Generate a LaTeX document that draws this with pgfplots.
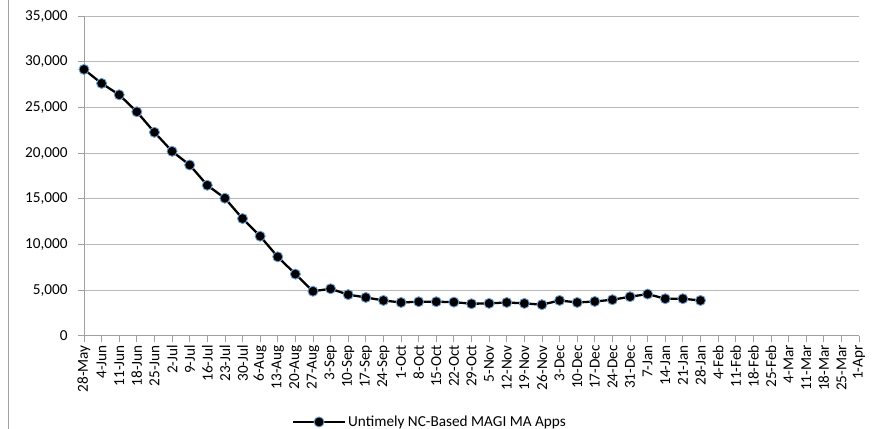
\documentclass[border=0pt]{standalone}
\usepackage{fontspec}
\setmainfont{Carlito}
\usepackage{pgfplots}
\pgfplotsset{compat=1.18}
\definecolor{gridgray}{HTML}{B8B8B8}
\definecolor{axisgray}{HTML}{A0A0A0}
\definecolor{markring}{HTML}{6A9BD1}

\begin{document}
\begin{tikzpicture}
\useasboundingbox (0,0) rectangle (876bp,429bp);
\clip (0,0) rectangle (876bp,429bp);
% chart frame edge on the left
\draw[color=axisgray, line width=1pt] (8bp,0) -- (8bp,429bp);
\begin{axis}[
    at={(84bp,93.3bp)}, anchor=south west,
    scale only axis,
    width=775bp, height=319.5bp,
    xmin=0, xmax=44, ymin=0, ymax=35000,
    ytick={0,5000,...,35000},
    xtick={0,...,44},
    xticklabels={28-May,4-Jun,11-Jun,18-Jun,25-Jun,2-Jul,9-Jul,16-Jul,23-Jul,30-Jul,6-Aug,13-Aug,20-Aug,27-Aug,3-Sep,10-Sep,17-Sep,24-Sep,1-Oct,8-Oct,15-Oct,22-Oct,29-Oct,5-Nov,12-Nov,19-Nov,26-Nov,3-Dec,10-Dec,17-Dec,24-Dec,31-Dec,7-Jan,14-Jan,21-Jan,28-Jan,4-Feb,11-Feb,18-Feb,25-Feb,4-Mar,11-Mar,18-Mar,25-Mar,1-Apr},
    x tick label style={rotate=90, anchor=east, font=\fontsize{15.3}{17}\selectfont},
    y tick label style={font=\fontsize{15.3}{17}\selectfont, xshift=-7bp},
    /pgf/number format/assume math mode=true,
    /pgf/number format/1000 sep={,},
    scaled y ticks=false,
    axis x line=bottom, axis y line=left,
    axis line style={-, color=axisgray, line width=0.8pt},
    tick style={color=axisgray, line width=0.8pt},
    tick align=outside, major tick length=6bp,
    ymajorgrids, grid style={color=gridgray, line width=0.8pt},
    clip=false,
    legend style={at={(0.268,-0.27)}, anchor=west, draw=none, fill=none,
        font=\fontsize{15.3}{17}\selectfont, inner sep=0pt},
    legend cell align=left,
    legend image code/.code={
        \draw[#1, mark repeat=2, mark phase=2] plot coordinates {(0bp,0bp)(26bp,0bp)(52bp,0bp)};
    },
]
\addplot[color=black, line width=2.3pt, mark=*, mark size=5bp,
    mark options={fill=black, draw=markring, line width=0.9pt}]
coordinates {
(0,29170)(1,27640)(2,26390)(3,24530)(4,22280)(5,20200)(6,18700)(7,16480)
(8,15060)(9,12830)(10,10900)(11,8640)(12,6750)(13,4870)(14,5140)(15,4500)
(16,4190)(17,3860)(18,3640)(19,3720)(20,3720)(21,3680)(22,3500)(23,3540)
(24,3640)(25,3540)(26,3400)(27,3860)(28,3640)(29,3750)(30,3940)(31,4270)
(32,4560)(33,4050)(34,4050)(35,3860)
};
\addlegendentry{Untimely NC-Based MAGI MA Apps}
\end{axis}
\end{tikzpicture}
\end{document}
